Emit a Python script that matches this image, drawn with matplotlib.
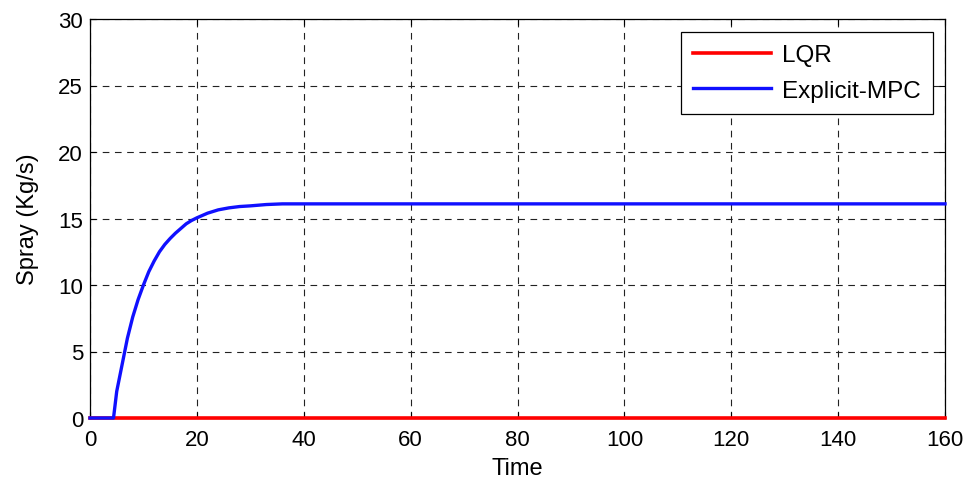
import matplotlib
matplotlib.use("Agg")
import matplotlib.pyplot as plt

plt.rcParams['font.family'] = ['Liberation Sans', 'DejaVu Sans']

# LQR series
t_lqr = [0, 160]
y_lqr = [0, 0]

# Explicit-MPC series
t_mpc = [0, 4.4, 5, 6, 7, 8, 9, 10, 11, 12, 13, 14, 15, 16, 17, 18, 19, 20,
         22, 24, 26, 28, 30, 33, 36, 40, 160]
y_mpc = [0, 0, 2.0, 4.0, 6.0, 7.6, 8.9, 10.0, 11.0, 11.8, 12.5, 13.05, 13.5,
         13.9, 14.25, 14.6, 14.85, 15.05, 15.4, 15.65, 15.8, 15.9, 15.95,
         16.05, 16.1, 16.1, 16.1]

xticks = [0, 20, 40, 60, 80, 100, 120, 140, 160]
yticks = [0, 5, 10, 15, 20, 25, 30]

fig = plt.figure(figsize=(9.71, 4.81), dpi=100)
ax = fig.add_axes([90/971, 1-419/481, 855/971, 399/481])

ax.plot(t_lqr, y_lqr, color='#ff0000', lw=2.6, label='LQR', clip_on=False, zorder=3)
ax.plot(t_mpc, y_mpc, color='#1010ff', lw=2.4, label='Explicit-MPC', clip_on=False, zorder=4)

ax.set_xlim(0, 160)
ax.set_ylim(0, 30)
ax.set_xticks(xticks)
ax.set_yticks(yticks)
ax.tick_params(direction='in', top=True, right=True, labelsize=16, length=4, width=0.8)
ax.tick_params(axis='x', pad=8)
ax.tick_params(axis='y', pad=5)
ax.grid(True, color='#222222', linestyle=(0, (6, 5)), linewidth=0.8)
for s in ax.spines.values():
    s.set_linewidth(0.9)
    s.set_color('black')
    s.set_zorder(2)

ax.set_xlabel('Time', fontsize=17, labelpad=5)
ax.set_ylabel('Spray (Kg/s)', fontsize=17, labelpad=14)

leg = ax.legend(loc='upper right', fontsize=17.5, fancybox=False, framealpha=1,
                edgecolor='black', handlelength=3.2, handletextpad=0.45,
                borderpad=0.5, labelspacing=0.55,
                bbox_to_anchor=(0.986, 0.967), borderaxespad=0)
leg.get_frame().set_linewidth(0.9)

fig.savefig('out.png', dpi=100)
